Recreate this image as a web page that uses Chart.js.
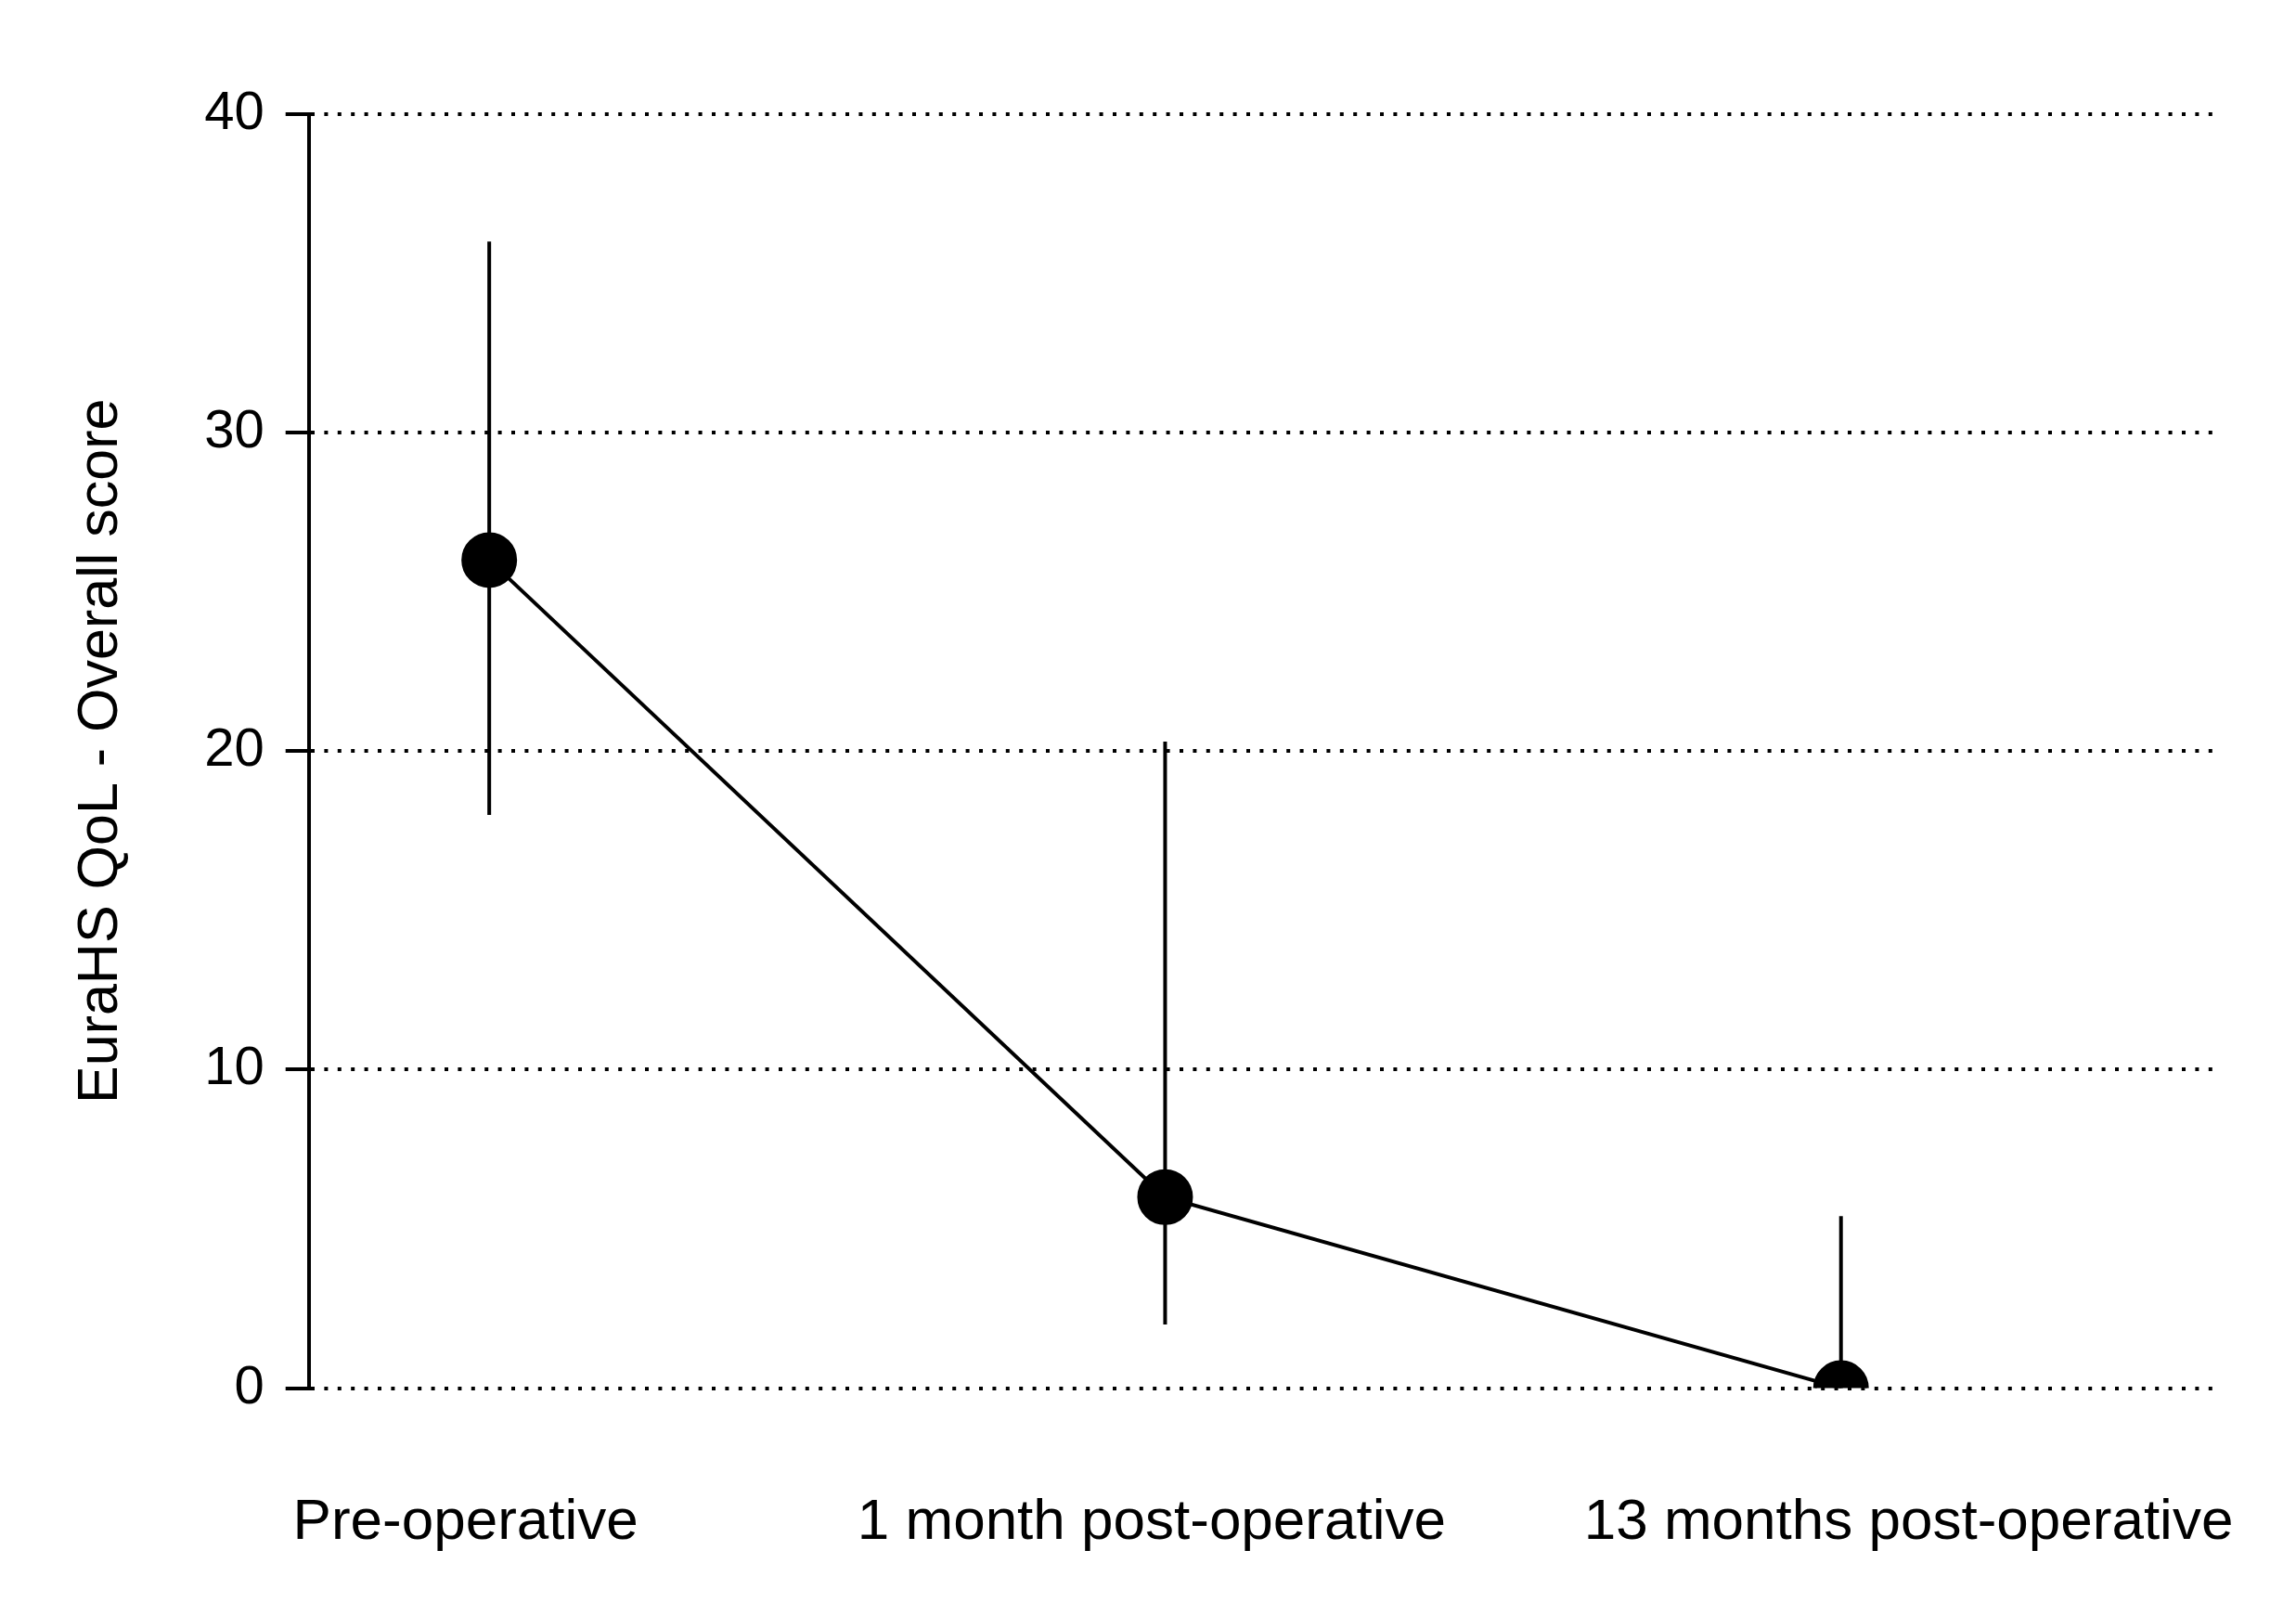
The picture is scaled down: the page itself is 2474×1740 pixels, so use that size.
<!DOCTYPE html>
<html lang="en">
<head>
    <meta charset="UTF-8">
    <title>EuraHS QoL</title>
    <script src="https://cdn.jsdelivr.net/npm/chart.js"></script>
    <style>
        html, body { margin: 0; padding: 0; background: #fff; }
        #wrap { width: 2474px; height: 1740px; }
    </style>
</head>
<body>
    <div id="wrap"><canvas id="qolChart"></canvas></div>
    <script>
        // data
        const timepoints = ['Pre-operative', '1 month post-operative', '13 months post-operative'];
        const scores = [26, 6, 0];
        const errLow = [18, 2, 0];
        const errHigh = [36, 20.3, 5.4];
        const yTicks = [0, 10, 20, 30, 40];

        // the category labels in the original are not quite centred under the points
        const labelNudge = [-0.035, -0.02, 0.1];

        const FONT = '"Liberation Sans", Arial, sans-serif';
        const X_MIN = -0.267, X_MAX = 2.551;

        // vertical error bars, drawn under the markers
        const errorBars = {
            id: 'errorBars',
            beforeDatasetsDraw(chart) {
                const ctx = chart.ctx;
                const xs = chart.scales.x, ys = chart.scales.y;
                ctx.save();
                ctx.strokeStyle = '#000';
                ctx.lineWidth = 4;
                scores.forEach((v, i) => {
                    const x = xs.getPixelForValue(i);
                    ctx.beginPath();
                    ctx.moveTo(x, ys.getPixelForValue(errLow[i]));
                    ctx.lineTo(x, ys.getPixelForValue(errHigh[i]));
                    ctx.stroke();
                });
                ctx.restore();
            }
        };

        const ctx = document.getElementById('qolChart').getContext('2d');
        new Chart(ctx, {
            type: 'line',
            data: {
                datasets: [{
                    data: scores.map((v, i) => ({ x: i, y: v })),
                    borderColor: '#000',
                    borderWidth: 4,
                    backgroundColor: '#000',
                    pointBackgroundColor: '#000',
                    pointBorderColor: '#000',
                    pointRadius: 28,
                    pointHoverRadius: 28,
                    tension: 0
                }]
            },
            plugins: [errorBars],
            options: {
                responsive: true,
                maintainAspectRatio: false,
                animation: false,
                layout: { padding: { left: 73, top: 123, right: 89, bottom: 62 } },
                plugins: {
                    legend: { display: false },
                    tooltip: { enabled: false }
                },
                scales: {
                    x: {
                        type: 'linear',
                        min: X_MIN,
                        max: X_MAX,
                        grid: { display: false, drawTicks: false },
                        border: { display: false },
                        ticks: { display: false }
                    },
                    xLabels: {
                        type: 'linear',
                        position: 'bottom',
                        min: X_MIN,
                        max: X_MAX,
                        afterBuildTicks: (scale) => {
                            scale.ticks = timepoints.map((t, i) => ({ value: i + labelNudge[i] }));
                        },
                        // invisible tick marks give the gap between axis and labels
                        grid: {
                            display: true,
                            drawOnChartArea: false,
                            drawTicks: true,
                            tickLength: 108,
                            tickColor: 'rgba(0,0,0,0)'
                        },
                        border: { display: false },
                        ticks: {
                            padding: 0,
                            maxRotation: 0,
                            autoSkip: false,
                            color: '#000',
                            font: { family: FONT, size: 62 },
                            callback: (v, i) => timepoints[i]
                        }
                    },
                    y: {
                        min: 0,
                        max: 40,
                        afterBuildTicks: (scale) => {
                            scale.ticks = yTicks.map(v => ({ value: v }));
                        },
                        grid: {
                            color: '#000',
                            lineWidth: 4,
                            tickLength: 25,
                            tickWidth: 4,
                            tickColor: '#000',
                            tickBorderDash: []
                        },
                        border: { display: true, color: '#000', width: 4, dash: [4, 10.4] },
                        ticks: {
                            padding: 23,
                            color: '#000',
                            font: { family: FONT, size: 58 }
                        },
                        title: {
                            display: true,
                            text: 'EuraHS QoL - Overall score',
                            color: '#000',
                            font: { family: FONT, size: 61 },
                            padding: { top: 0, bottom: 51 }
                        }
                    }
                }
            }
        });
    </script>
</body>
</html>
